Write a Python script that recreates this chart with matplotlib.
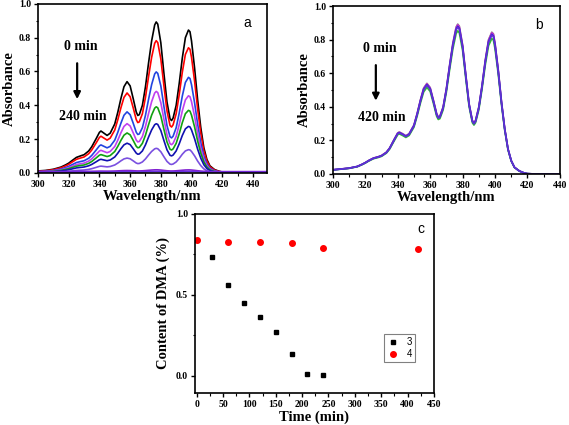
import numpy as np
import matplotlib
matplotlib.use("Agg")
import matplotlib.pyplot as plt
from matplotlib.ticker import MultipleLocator

plt.rcParams['font.family'] = ['Liberation Serif', 'DejaVu Serif']
plt.rcParams['font.weight'] = 'bold'

# --- panel a / b: absorption spectra ---
wl = [300, 305, 310, 315, 318, 320, 322, 325, 328, 330, 333, 335, 338, 340, 341,
      343, 345, 347, 350, 352, 354, 356, 358, 360, 362, 364, 365, 366, 368, 370,
      372, 374, 376, 377, 378, 380, 382, 384, 386, 387, 388, 390, 392, 394, 396,
      398, 399, 400, 402, 404, 406, 408, 410, 412, 415, 418, 420, 425, 430, 440, 450]

abs_a0 = [0.012, 0.015, 0.022, 0.035, 0.048, 0.058, 0.072, 0.092, 0.102, 0.108, 0.130, 0.155, 0.205, 0.240, 0.248,
          0.235, 0.222, 0.235, 0.290, 0.360, 0.440, 0.510, 0.540, 0.515, 0.440, 0.360, 0.340, 0.345, 0.400, 0.510,
          0.650, 0.780, 0.875, 0.893, 0.880, 0.770, 0.590, 0.420, 0.320, 0.310, 0.325, 0.400, 0.530, 0.680, 0.800,
          0.845, 0.835, 0.780, 0.620, 0.430, 0.270, 0.150, 0.080, 0.042, 0.020, 0.010, 0.006, 0.003, 0.002, 0.001, 0.001]

abs_b0 = [0.025, 0.030, 0.035, 0.045, 0.058, 0.068, 0.080, 0.095, 0.103, 0.110, 0.130, 0.155, 0.210, 0.245, 0.250,
          0.240, 0.228, 0.240, 0.292, 0.362, 0.442, 0.512, 0.540, 0.515, 0.440, 0.360, 0.340, 0.345, 0.400, 0.510,
          0.650, 0.780, 0.875, 0.893, 0.880, 0.770, 0.590, 0.420, 0.320, 0.305, 0.320, 0.400, 0.530, 0.680, 0.800,
          0.845, 0.835, 0.780, 0.620, 0.430, 0.270, 0.150, 0.080, 0.040, 0.018, 0.006, 0.002, 0.000, 0.000, 0.000, 0.000]

# relative intensity of each recorded spectrum (0 min ... 240 min) and baseline offsets
scale_a = [1.0, 0.876, 0.669, 0.54, 0.438, 0.326, 0.163, 0.012, 0.006]
offset_a = [0, 0, 0, 0, 0, 0, 0, 0.008, 0.004]
colors_a = ['black', '#ff0000', '#2244e0', '#c040f0', '#10a010', '#1010b0', '#7a50e0', '#8020d0', '#6a30e0']

scale_b = [1.0, 0.995, 0.955, 0.985, 0.98]
colors_b = ['#808080', '#d030d0', '#30c030', '#2020e0', '#6030d0']

# --- panel c: DMA content vs time ---
time3 = [30, 60, 90, 120, 150, 180, 210, 240]
dma3 = [0.736, 0.56, 0.452, 0.364, 0.273, 0.136, 0.012, 0.005]
time4 = [0, 60, 120, 180, 240, 420]
dma4 = [0.841, 0.827, 0.825, 0.82, 0.788, 0.784]

fig = plt.figure(figsize=(5.69, 4.25), dpi=100)


def style_axes(ax):
    for s in ax.spines.values():
        s.set_linewidth(1.2)
    ax.tick_params(which='major', length=3, width=1, labelsize=7, top=False, right=False, pad=2)
    ax.tick_params(which='minor', length=1.8, width=0.8, top=False, right=False)
    for lab in ax.get_xticklabels() + ax.get_yticklabels():
        lab.set_fontweight('bold')


def spectrum_panel(ax, base, scales, offsets, colors, xmax, letter, t_end, ax_pos):
    x = np.array(wl)
    for k, c in zip(range(len(scales)), colors):
        ax.plot(x, np.array(base) * scales[k] + offsets[k], color=c, lw=1.2)
    ax.set_xlim(300, xmax)
    ax.set_ylim(0, 1.0)
    ax.xaxis.set_major_locator(MultipleLocator(20))
    ax.xaxis.set_minor_locator(MultipleLocator(10))
    ax.yaxis.set_major_locator(MultipleLocator(0.2))
    ax.yaxis.set_minor_locator(MultipleLocator(0.1))
    ax.set_xlabel('Wavelength/nm', fontsize=10.5, fontweight='bold', labelpad=1)
    ax.set_ylabel('Absorbance', fontsize=10.5, fontweight='bold', labelpad=2)
    tx, ay0, ay1 = ax_pos
    ax.text(tx, 0.745, '0 min', ha='center', va='center', fontsize=10, fontweight='bold')
    ax.text(tx + 1, 0.335, t_end, ha='center', va='center', fontsize=10, fontweight='bold')
    ax.annotate('', xy=(tx - 2.5, ay1), xytext=(tx - 2.5, ay0),
                arrowprops=dict(arrowstyle='-|>', lw=1.6, color='black', mutation_scale=10))
    ax.text(xmax - 13, 0.885, letter, ha='center', va='center', fontsize=10,
            family=['Liberation Sans', 'DejaVu Sans'], fontweight='normal')
    style_axes(ax)


ax_a = fig.add_axes([0.0668, 0.593, 0.402, 0.398])
spectrum_panel(ax_a, abs_a0, scale_a, offset_a, colors_a, 449, 'a', '240 min', (328, 0.665, 0.42))

ax_b = fig.add_axes([0.585, 0.5906, 0.399, 0.395])
spectrum_panel(ax_b, abs_b0, scale_b, [0] * len(scale_b), colors_b, 440, 'b', '420 min', (329, 0.665, 0.42))

ax_c = fig.add_axes([0.3427, 0.0753, 0.42, 0.4212])
ax_c.plot(time3, dma3, 's', color='black', ms=3, label='3')
ax_c.plot(time4, dma4, 'o', color='red', ms=4, label='4')
ax_c.set_xlim(-3, 450)
ax_c.set_ylim(-0.105, 1.0)
ax_c.xaxis.set_major_locator(MultipleLocator(50))
ax_c.xaxis.set_minor_locator(MultipleLocator(25))
ax_c.yaxis.set_major_locator(MultipleLocator(0.5))
ax_c.yaxis.set_minor_locator(MultipleLocator(0.25))
ax_c.set_xlabel('Time (min)', fontsize=10.5, fontweight='bold', labelpad=1)
ax_c.set_ylabel('Content of DMA (%)', fontsize=10.5, fontweight='bold', labelpad=4)
ax_c.text(425, 0.905, 'c', ha='center', va='center', fontsize=10,
          family=['Liberation Sans', 'DejaVu Sans'], fontweight='normal')
leg = ax_c.legend(loc='lower right', bbox_to_anchor=(0.94, 0.145), fancybox=False,
                  edgecolor='#808080', framealpha=1, handlelength=1.2, handletextpad=0.8,
                  borderpad=0.3, labelspacing=0.2,
                  prop={'family': ['Liberation Sans', 'DejaVu Sans'], 'size': 7, 'weight': 'normal'})
leg.get_frame().set_linewidth(0.8)
style_axes(ax_c)

fig.savefig('out.png', dpi=100)
